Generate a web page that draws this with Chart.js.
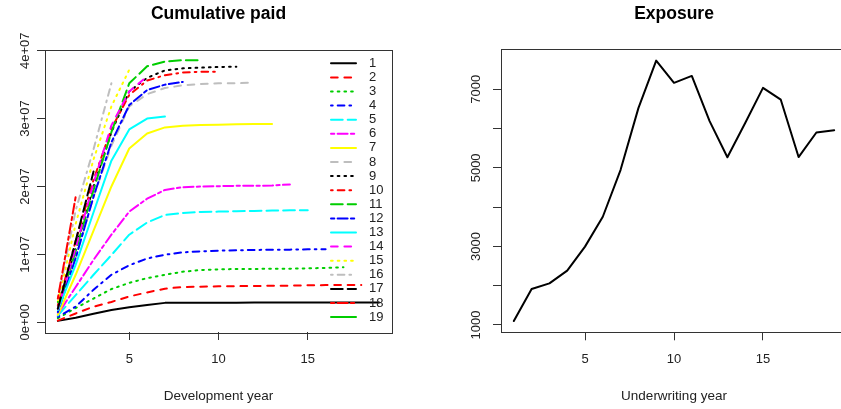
<!DOCTYPE html>
<html>
<head>
<meta charset="utf-8">
<script src="https://cdn.jsdelivr.net/npm/chart.js@4.4.0/dist/chart.umd.min.js"></script>
<style>
  html, body { margin: 0; padding: 0; background: #ffffff; overflow: hidden; }
  #wrap { position: relative; width: 841px; height: 409px; overflow: hidden; background: #ffffff; }
  #paid { position: absolute; left: 0; top: 0; }
  #exposure { position: absolute; left: 420px; top: 0; }
</style>
</head>
<body>
<div id="wrap">
  <canvas id="paid" width="420" height="409"></canvas>
  <canvas id="exposure" width="440" height="409"></canvas>
</div>
<script>
// ---- data: cumulative paid by origin year (one array per origin year) ----
const originYears = ['1','2','3','4','5','6','7','8','9','10','11','12','13','14','15','16','17','18','19'];
const devYears = [1,2,3,4,5,6,7,8,9,10,11,12,13,14,15,16,17,18,19];

const paid1  = [210000, 680000, 1270000, 1800000, 2230000, 2560000, 2860000, 2880000, 2890000, 2890000, 2895000, 2900000, 2900000, 2905000, 2905000, 2910000, 2910000, 2910000, 2910000];
const paid2  = [250000, 1300000, 2300000, 3000000, 3800000, 4400000, 4950000, 5200000, 5250000, 5300000, 5320000, 5350000, 5380000, 5400000, 5450000, 5480000, 5500000, 5500000];
const paid3  = [600000, 2100000, 3500000, 4900000, 5800000, 6500000, 7000000, 7450000, 7700000, 7800000, 7850000, 7850000, 7900000, 7900000, 7950000, 8000000, 8100000];
const paid4  = [800000, 2300000, 4800000, 7000000, 8400000, 9400000, 9950000, 10300000, 10450000, 10550000, 10600000, 10650000, 10700000, 10700000, 10750000, 10750000];
const paid5  = [1000000, 4000000, 7000000, 9900000, 12900000, 14700000, 15800000, 16100000, 16250000, 16300000, 16350000, 16400000, 16450000, 16500000, 16500000];
const paid6  = [1200000, 5200000, 9200000, 12900000, 16300000, 18200000, 19500000, 19900000, 20000000, 20050000, 20100000, 20100000, 20150000, 20300000];
const paid7  = [1100000, 7000000, 13500000, 20000000, 25600000, 27800000, 28700000, 28950000, 29050000, 29100000, 29150000, 29200000, 29200000];
const paid8  = [1500000, 9500000, 18500000, 26000000, 31800000, 33600000, 34500000, 34900000, 35100000, 35200000, 35200000, 35300000];
const paid9  = [2000000, 11000000, 20000000, 28000000, 34000000, 36000000, 37100000, 37400000, 37500000, 37600000, 37650000];
const paid10 = [2500000, 12000000, 21000000, 28500000, 33500000, 35600000, 36400000, 36800000, 36900000, 36900000];
const paid11 = [2000000, 10500000, 19500000, 28000000, 35200000, 37700000, 38400000, 38600000, 38600000];
const paid12 = [1500000, 9500000, 18500000, 26500000, 32000000, 34200000, 35000000, 35400000];
const paid13 = [1800000, 8500000, 16200000, 23800000, 28400000, 30000000, 30300000];
const paid14 = [2000000, 11000000, 20500000, 29000000, 34000000, 36200000];
const paid15 = [3000000, 14500000, 24000000, 31800000, 37200000];
const paid16 = [3500000, 16500000, 25500000, 35200000];
const paid17 = [2000000, 12000000, 22200000];
const paid18 = [3500000, 18500000];
const paid19 = [3000000];

const paidTicks = [0, 10000000, 20000000, 30000000, 40000000];
const paidTickLabels = ['0e+00', '1e+07', '2e+07', '3e+07', '4e+07'];
const devTicks = [5, 10, 15];

// ---- data: exposure by underwriting year ----
const underwritingYears = [1,2,3,4,5,6,7,8,9,10,11,12,13,14,15,16,17,18,19];
const exposure = [1100, 1915, 2060, 2385, 2995, 3755, 4950, 6520, 7730, 7165, 7340, 6190, 5270, 6140, 7035, 6735, 5275, 5900, 5960];
const exposureTicks = [1000, 2000, 3000, 4000, 5000, 6000, 7000];
const exposureTickLabels = ['1000', '', '3000', '', '5000', '', '7000'];
const yearTicks = [5, 10, 15];

// ---- styles ----
const FONT = '"Liberation Sans", Arial, Helvetica, sans-serif';
const TEXT = '#222222';
const palette = ['#000000', '#FF0000', '#00CD00', '#0000FF', '#00FFFF', '#FF00FF', '#FFFF00', '#BEBEBE'];
const dashes = [
  [],                    // solid
  [6.7, 6.7],            // dashed
  [1.7, 5],              // dotted
  [1.7, 5, 6.7, 5],      // dot-dash
  [11.7, 5],             // long dash
  [3.3, 3.3, 10, 3.3]    // two-dash
];

const paidSeries = [paid1, paid2, paid3, paid4, paid5, paid6, paid7, paid8, paid9, paid10,
                    paid11, paid12, paid13, paid14, paid15, paid16, paid17, paid18, paid19];

const paidDatasets = paidSeries.map((vals, i) => ({
  label: originYears[i],
  data: vals.map((v, j) => ({ x: devYears[j], y: v })),
  borderColor: palette[i % 8],
  borderDash: dashes[i % 6],
  borderWidth: 2,
  borderCapStyle: 'round',
  borderJoinStyle: 'round',
  pointRadius: 0,
  tension: 0,
  fill: false,
  order: paidSeries.length - i
}));

// Frame, tick labels, titles and (optionally) legend in base-graphics style
function framePlugin(cfg) {
  return {
    id: 'frame',
    afterDraw(chart) {
      const ctx = chart.ctx;
      const a = chart.chartArea;
      const xs = chart.scales.x, ys = chart.scales.y;
      ctx.save();
      // box around the plot region
      ctx.strokeStyle = '#333333';
      ctx.lineWidth = 1;
      ctx.strokeRect(Math.round(a.left) + 0.5, Math.round(a.top) + 0.5,
                     Math.round(a.right - a.left), Math.round(a.bottom - a.top));
      ctx.fillStyle = TEXT;
      // x tick labels
      ctx.font = '13px ' + FONT;
      ctx.textAlign = 'center';
      ctx.textBaseline = 'middle';
      cfg.xTicks.forEach(v => ctx.fillText(String(v), xs.getPixelForValue(v), 359.5));
      // y tick labels, rotated
      cfg.yTicks.forEach((v, i) => {
        const lab = cfg.yLabels[i];
        if (!lab) return;
        ctx.save();
        ctx.translate(cfg.yLabelX, ys.getPixelForValue(v));
        ctx.rotate(-Math.PI / 2);
        ctx.fillText(lab, 0, 0);
        ctx.restore();
      });
      // x axis title
      const cx = (a.left + a.right) / 2;
      ctx.font = '13.5px ' + FONT;
      ctx.fillText(cfg.xTitle, cx, 396);
      // main title
      ctx.font = 'bold 17.5px ' + FONT;
      ctx.fillStyle = '#000000';
      ctx.fillText(cfg.title, cx, 14.5);
      // legend
      if (cfg.legend) {
        ctx.font = '13px ' + FONT;
        ctx.textAlign = 'left';
        chart.data.datasets.forEach((ds, i) => {
          const y = 63.3 + i * 14.1;
          ctx.save();
          ctx.strokeStyle = ds.borderColor;
          ctx.lineWidth = 2;
          ctx.lineCap = 'round';
          ctx.setLineDash(ds.borderDash);
          ctx.beginPath();
          ctx.moveTo(331, y);
          ctx.lineTo(356, y);
          ctx.stroke();
          ctx.restore();
          ctx.fillStyle = TEXT;
          ctx.fillText(ds.label, 369, y);
        });
      }
      ctx.restore();
    }
  };
}

function axisOpts(min, max, ticks, fixSize) {
  return {
    type: 'linear',
    min: min,
    max: max,
    afterBuildTicks: (scale) => { scale.ticks = ticks.map(v => ({ value: v })); },
    afterFit: fixSize,
    ticks: { display: false },
    grid: { drawOnChartArea: false, drawTicks: true, tickLength: 8, color: '#333333', lineWidth: 1 },
    border: { display: false }
  };
}

new Chart(document.getElementById('paid'), {
  type: 'line',
  data: { datasets: paidDatasets },
  options: {
    responsive: false,
    animation: false,
    devicePixelRatio: 1,
    layout: { padding: { top: 49.5, right: 28, left: 0, bottom: 0 } },
    plugins: { legend: { display: false }, tooltip: { enabled: false }, title: { display: false } },
    scales: {
      x: axisOpts(0.28, 19.72, devTicks, s => { s.height = 77; }),
      y: axisOpts(-1430000, 40177000, paidTicks, s => { s.width = 45; })
    }
  },
  plugins: [framePlugin({
    title: 'Cumulative paid', xTitle: 'Development year',
    xTicks: devTicks, yTicks: paidTicks, yLabels: paidTickLabels, yLabelX: 25, legend: true
  })]
});

new Chart(document.getElementById('exposure'), {
  type: 'line',
  data: {
    datasets: [{
      label: 'Exposure',
      data: exposure.map((v, i) => ({ x: underwritingYears[i], y: v })),
      borderColor: '#000000',
      borderWidth: 2,
      borderJoinStyle: 'round',
      borderCapStyle: 'round',
      pointRadius: 0,
      tension: 0,
      fill: false
    }]
  },
  options: {
    responsive: false,
    animation: false,
    devicePixelRatio: 1,
    layout: { padding: { top: 49.3, right: 13, left: 0, bottom: 0 } },
    plugins: { legend: { display: false }, tooltip: { enabled: false }, title: { display: false } },
    scales: {
      x: axisOpts(0.28, 19.72, yearTicks, s => { s.height = 76.7; }),
      y: axisOpts(814, 8018, exposureTicks, s => { s.width = 81; })
    }
  },
  plugins: [framePlugin({
    title: 'Exposure', xTitle: 'Underwriting year',
    xTicks: yearTicks, yTicks: exposureTicks, yLabels: exposureTickLabels, yLabelX: 56, legend: false
  })]
});
</script>
</body>
</html>
